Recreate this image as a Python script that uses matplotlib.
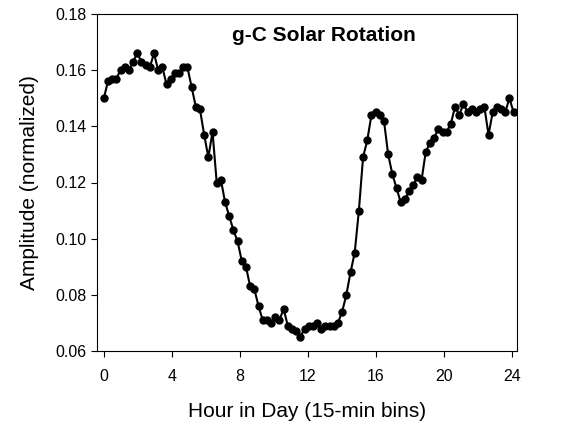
import matplotlib
matplotlib.use('Agg')
import matplotlib.pyplot as plt
import numpy as np

plt.rcParams['font.family'] = ['Liberation Sans', 'DejaVu Sans']

# amplitude per 15-min bin
amp = [.150, .156, .157, .157, .160, .161, .160, .163, .166, .163, .162, .161, .166,
       .160, .161, .155, .157, .159, .159, .161, .161, .154, .147, .146, .137, .129,
       .138, .120, .121, .113, .108, .103, .099, .092, .090, .083, .082, .076, .071,
       .071, .070, .072, .071, .075, .069, .068, .067, .065, .068, .069, .069, .070,
       .068, .069, .069, .069, .070, .074, .080, .088, .095, .110, .129, .135, .144,
       .145, .144, .142, .130, .123, .118, .113, .114, .117, .119, .122, .121, .131,
       .134, .136, .139, .138, .138, .141, .147, .144, .148, .145, .146, .145, .146,
       .147, .137, .145, .147, .146, .145, .150, .145]
hours = np.linspace(0, 24.1, len(amp))

fig = plt.figure(figsize=(5.61, 4.30), dpi=100)
ax = fig.add_axes([97/561, 1-351/430, 420/561, 337/430])
ax.plot(hours, amp, '-o', color='black', lw=1.5, ms=5)
ax.set_xlim(-0.4, 24.3)
ax.set_ylim(0.06, 0.18)
ax.set_xticks(range(0, 25, 4))
ax.set_yticks(np.arange(0.06, 0.181, 0.02))
ax.set_yticklabels(['%.2f' % v for v in np.arange(0.06, 0.181, 0.02)])
ax.tick_params(labelsize=11.5, direction='out', length=4)
ax.tick_params(axis='x', pad=9)
ax.set_xlabel('Hour in Day (15-min bins)', fontsize=15, labelpad=13)
ax.set_ylabel('Amplitude (normalized)', fontsize=15, labelpad=12)
ax.text(0.54, 0.935, 'g-C Solar Rotation', transform=ax.transAxes, ha='center',
        va='center', fontsize=15, fontweight='bold')
fig.savefig('out.png', dpi=100)
